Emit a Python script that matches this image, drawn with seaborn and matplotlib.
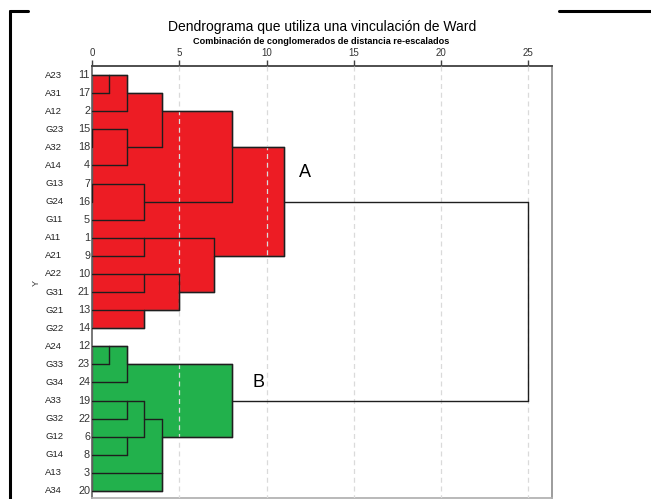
import numpy as np
import matplotlib
matplotlib.use("Agg")
import matplotlib.pyplot as plt
import matplotlib.transforms as mtransforms
from matplotlib.lines import Line2D
import seaborn as sns

# Hojas en el orden del dendrograma (de arriba a abajo)
LEAF_NAMES = ["A23", "A31", "A12", "G23", "A32", "A14", "G13", "G24", "G11", "A11", "A21", "A22",
              "G31", "G21", "G22", "A24", "G33", "G34", "A33", "G32", "G12", "G14", "A13", "A34"]
LEAF_CASES = [11, 17, 2, 15, 18, 4, 7, 16, 5, 1, 9, 10, 21, 13, 14, 12, 23, 24, 19, 22, 6, 8, 3, 20]

# Fusiones: hoja (numero de caso) o "cK" = resultado de la fusion K
MERGE_A = [11, "c0", 15, "c2", "c1", 7, "c5", "c4", 1, 10, 13, "c9", "c8", "c7",
           12, "c14", 19, 6, "c16", 3, "c18", "c15", "c13"]
MERGE_B = [17, 2, 18, 4, "c3", 16, 5, "c6", 9, 21, 14, "c10", "c11", "c12",
           23, 24, 22, 8, "c17", 20, "c19", "c20", "c21"]
MERGE_DIST = [1, 2, 0, 2, 4, 0, 3, 8, 3, 3, 3, 5, 7, 11,
              1, 2, 2, 2, 3, 4, 4, 8, 25]

GROUP_NAMES = ["A", "B"]
GROUP_ROOTS = ["c13", "c21"]
GROUP_COLORS = ["#ED1C24", "#22B14C"]

TITLE = "Dendrograma que utiliza una vinculación de Ward"
SUBTITLE = "Combinación de conglomerados de distancia re-escalados"
X_TICKS = [0, 5, 10, 15, 20, 25]

sns.set_theme(style="white")
plt.rcParams["font.family"] = ["Liberation Sans", "DejaVu Sans"]

# Posiciones de cada nodo
row_of = {c: i for i, c in enumerate(LEAF_CASES)}
x_of = {c: 0 for c in LEAF_CASES}
members = {c: [c] for c in LEAF_CASES}
spans = []
for k, (a, b, d) in enumerate(zip(MERGE_A, MERGE_B, MERGE_DIST)):
    lo, hi = sorted([row_of[a], row_of[b]])
    key = f"c{k}"
    row_of[key] = (lo + hi) // 2
    x_of[key] = d
    members[key] = members[a] + members[b]
    spans.append((key, a, b, d, lo, hi))

fig = plt.figure(figsize=(6.51, 4.99), dpi=100)
ax = fig.add_axes([92 / 651, 1.5 / 499, 460 / 651, 431.5 / 499])

# Relleno de cada grupo
for root, col in zip(GROUP_ROOTS, GROUP_COLORS):
    rows = sorted(row_of[c] for c in members[root])
    keys = {root}
    stack = [root]
    while stack:
        n = stack.pop()
        for key, a, b, d, lo, hi in spans:
            if key == n:
                for ch in (a, b):
                    if isinstance(ch, str):
                        keys.add(ch)
                        stack.append(ch)
    xs, ys = [0], [rows[0]]
    for r in range(rows[0], rows[-1]):
        w = max([d for key, a, b, d, lo, hi in spans if key in keys and lo <= r and hi >= r + 1] + [0])
        xs += [w, w]
        ys += [r, r + 1]
    xs.append(0)
    ys.append(rows[-1])
    ax.fill(xs, ys, facecolor=col, edgecolor="#555555", linewidth=1.0, zorder=2)

# Lineas de referencia discontinuas
ax.vlines(X_TICKS[1:], -0.5, 23.4, colors="#dadada", linestyles=(0, (4, 3)), linewidth=0.9, zorder=3)

# Ramas del dendrograma
for key, a, b, d, lo, hi in spans:
    ax.plot([d, d], [lo, hi], color="#1e1e1e", linewidth=1.0, zorder=4)
    for ch in (a, b):
        ax.plot([x_of[ch], d], [row_of[ch], row_of[ch]], color="#1e1e1e", linewidth=1.0, zorder=4)

# Etiquetas A / B
ax.text(11.85, 5.4, GROUP_NAMES[0], fontsize=13, ha="left", va="center", color="black", zorder=5)
ax.text(9.2, 17.0, GROUP_NAMES[1], fontsize=13, ha="left", va="center", color="black", zorder=5)

ax.set_xlim(0, 26.35)
ax.set_ylim(23.36, -0.5)
ax.xaxis.tick_top()
ax.set_xticks(X_TICKS)
ax.tick_params(axis="x", direction="out", length=4.5, width=1, color="#404040",
               labelsize=7, labelcolor="#333333", pad=1.2, top=True, bottom=False)
ax.set_yticks([])

ax.spines["top"].set_color("#404040")
ax.spines["top"].set_linewidth(1.3)
ax.spines["left"].set_color("#606060")
ax.spines["left"].set_linewidth(1.2)
ax.spines["right"].set_color("#909090")
ax.spines["bottom"].set_color("#b0b0b0")

# Nombres y numeros de caso
tr = mtransforms.blended_transform_factory(fig.transFigure, ax.transData)
for i, (name, case) in enumerate(zip(LEAF_NAMES, LEAF_CASES)):
    fig.text(45 / 651, i, name, transform=tr, fontsize=6.8, ha="left", va="center", color="#222222")
    fig.text(90 / 651, i, str(case), transform=tr, fontsize=7.8, ha="right", va="center", color="#333333")
fig.text(36 / 651, 11.5, "Y", transform=tr, fontsize=6.5, rotation=90, ha="center", va="center", color="#333333")

fig.text(322 / 651, 1 - 27 / 499, TITLE, fontsize=10, ha="center", va="center", color="black")
fig.text(321 / 651, 1 - 42 / 499, SUBTITLE, fontsize=6.6, fontweight="bold", ha="center", va="center",
         color="black")

# Marco de la captura
for xs_, ys_ in [([10, 10], [11, 499]), ([10, 28], [11, 11]), ([559, 651], [11, 11])]:
    fig.add_artist(Line2D([x / 651 for x in xs_], [1 - y / 499 for y in ys_],
                          color="black", linewidth=2.2, transform=fig.transFigure))

fig.savefig("out.png", dpi=100)
